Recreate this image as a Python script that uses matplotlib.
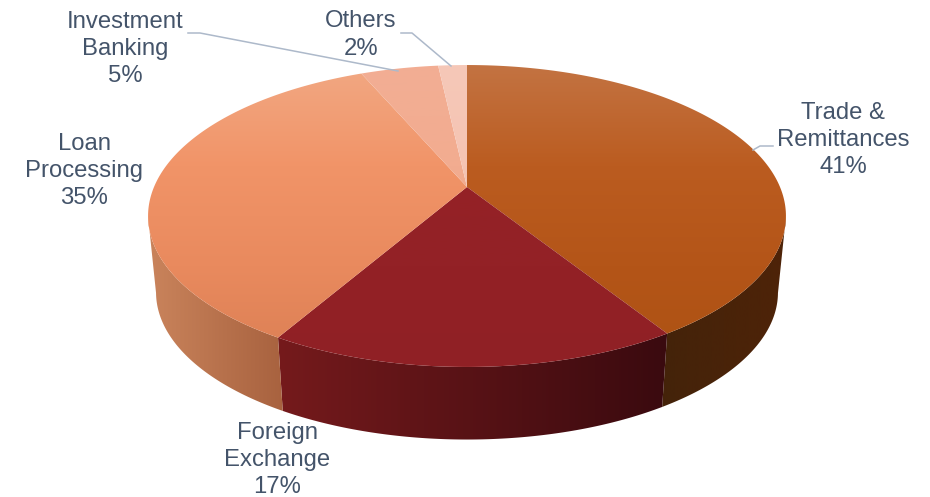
import numpy as np
import matplotlib
matplotlib.use("Agg")
import matplotlib.pyplot as plt
from matplotlib.colors import LinearSegmentedColormap
from matplotlib.patches import Polygon

plt.rcParams['font.family'] = ['Liberation Sans', 'DejaVu Sans']

# shares (labels are rounded)
categories = ["Trade &\nRemittances", "Foreign\nExchange", "Loan\nProcessing", "Investment\nBanking", "Others"]
shares = [41.0, 17.4, 35.1, 4.75, 1.75]
percent_labels = ["41%", "17%", "35%", "5%", "2%"]

top_colors = [
    ["#c37342", "#bb5c20", "#b45518", "#ad5213"],
    ["#962326", "#952226", "#932126", "#902025"],
    ["#f2a883", "#f19468", "#e98a5e", "#db7f54"],
    ["#f2ae94", "#f2ac90", "#f0a88b", "#eea488"],
    ["#f6c8b8", "#f5c4b3", "#f4c0ae", "#f2bcaa"],
]
wall_colors = [
    ["#44230a", "#4e2308"],
    ["#751a1c", "#3a0a0f"],
    ["#ca845c", "#a8623f"],
    ["#c98a70", "#c98a70"],
    ["#d8a898", "#d8a898"],
]
label_pos = [(843, 140), (277, 460), (84, 171), (125, 49), (361, 35)]
leaders = [
    [(773, 146), (760, 146), (753, 150)],
    None,
    None,
    [(188, 33), (200, 33), (398, 71)],
    [(401, 33), (412, 33), (451, 66)],
]

# perspective of the disc
CX, CY = 467, 187
RX, SY, K = 313, 145.4, 0.192
VANISH_Y, LOWER_SCALE = 3270, 0.975
RIM_MID_Y = 216
TEXT_COLOR = "#44546a"
LINE_COLOR = "#adb9ca"


def project(theta):
    u, v = np.sin(theta), -np.cos(theta)
    w = 1 - K * v
    return CX + RX * u / w, CY + SY * v / w


def lower(x, y):
    return CX + (x - CX) * LOWER_SCALE, VANISH_Y - (VANISH_Y - y) * LOWER_SCALE


def gradient(ax, colors, extent, clip, horizontal=False):
    cmap = LinearSegmentedColormap.from_list("g", colors)
    ramp = np.linspace(0, 1, 256)
    ramp = ramp[None, :] if horizontal else ramp[:, None]
    im = ax.imshow(ramp, cmap=cmap, extent=extent, aspect="auto", origin="upper", zorder=2, vmin=0, vmax=1)
    im.set_clip_path(Polygon(clip, closed=True, transform=ax.transData))
    return im


fig = plt.figure(figsize=(9.3, 4.97), dpi=100)
ax = fig.add_axes([0, 0, 1, 1])

edges = np.cumsum([0] + shares) / sum(shares) * 2 * np.pi

# walls: only the part of the rim that faces the viewer
for i in range(len(shares)):
    th = np.linspace(edges[i], edges[i + 1], 400)
    x, y = project(th)
    front = y >= RIM_MID_Y
    if not front.any():
        continue
    x, y = x[front], y[front]
    lx, ly = lower(x, y)
    pts = np.vstack([np.column_stack([x, y]), np.column_stack([lx, ly])[::-1]])
    gradient(ax, wall_colors[i], [pts[:, 0].min(), pts[:, 0].max(), 500, 0], pts, horizontal=True)

# top face
for i in range(len(shares)):
    th = np.linspace(edges[i], edges[i + 1], 200)
    x, y = project(th)
    pts = np.vstack([[CX, CY], np.column_stack([x, y])])
    gradient(ax, top_colors[i], [0, 930, 367, 65], pts)

for i, cat in enumerate(categories):
    ax.text(label_pos[i][0], label_pos[i][1], cat + "\n" + percent_labels[i], ha="center", va="center",
            fontsize=17.2, color=TEXT_COLOR, linespacing=1.32, zorder=5)
    if leaders[i]:
        lx, ly = zip(*leaders[i])
        ax.plot(lx, ly, color=LINE_COLOR, lw=1.1, zorder=4)

ax.set_xlim(0, 930)
ax.set_ylim(497, 0)
ax.axis("off")

fig.savefig("out.png", dpi=100)
